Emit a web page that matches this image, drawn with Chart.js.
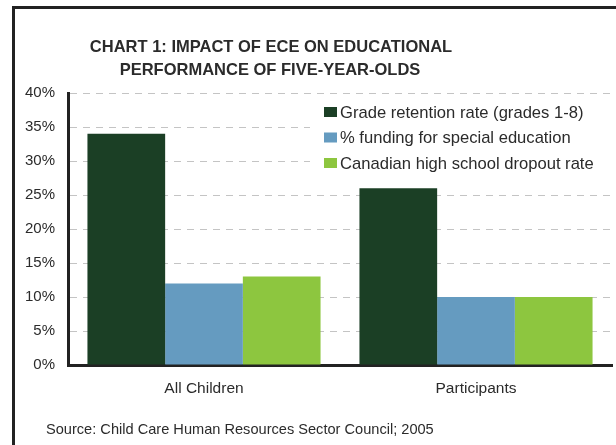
<!DOCTYPE html>
<html>
<head>
<meta charset="utf-8">
<script src="https://cdn.jsdelivr.net/npm/chart.js@4.4.0/dist/chart.umd.min.js"></script>
<style>
    html, body { margin: 0; padding: 0; background: #fff; }
    #wrap { position: relative; width: 616px; height: 445px; overflow: hidden; }
    #frame {
        position: absolute; left: 12px; top: 6px; width: 700px; height: 500px;
        border-left: 3px solid #222; border-top: 3px solid #222;
    }
    canvas { position: absolute; left: 0; top: 0; }
</style>
</head>
<body>
<div id="wrap">
    <div id="frame"></div>
    <canvas id="eceChart" width="616" height="445"></canvas>
</div>
<script>
const categories = ['All Children', 'Participants'];
const seriesNames = [
    'Grade retention rate (grades 1-8)',
    '% funding for special education',
    'Canadian high school dropout rate'
];
const retentionRate = [34, 26];
const specialEdFunding = [12, 10];
const dropoutRate = [13, 10];
const seriesColors = ['#1b3f25', '#659bc0', '#8dc63f'];
const yTicks = [0, 5, 10, 15, 20, 25, 30, 35, 40];

const titleLines = ['CHART 1: IMPACT OF ECE ON EDUCATIONAL', 'PERFORMANCE OF FIVE-YEAR-OLDS'];
const sourceNote = 'Source: Child Care Human Resources Sector Council; 2005';

const textColor = '#2b2b2b';
const fontFamily = '"Liberation Sans", Arial, sans-serif';

// title, source line and the boxed legend in the upper right
const decorations = {
    id: 'decorations',
    afterDraw(chart) {
        const ctx = chart.ctx;
        ctx.save();
        ctx.fillStyle = textColor;
        ctx.textAlign = 'center';
        ctx.textBaseline = 'alphabetic';
        ctx.font = 'bold 16.5px ' + fontFamily;
        ctx.fillText(titleLines[0], 271, 52);
        ctx.fillText(titleLines[1], 270, 75);

        ctx.textAlign = 'left';
        ctx.font = '14.6px ' + fontFamily;
        ctx.fillText(sourceNote, 46, 434);

        // legend
        const x0 = 310, y0 = 97;
        ctx.fillStyle = '#fff';
        ctx.fillRect(x0, y0, 612 - x0, 78);
        ctx.font = '16.6px ' + fontFamily;
        ctx.textBaseline = 'middle';
        chart.data.datasets.forEach((ds, i) => {
            const cy = 112 + i * 25.5;
            ctx.fillStyle = ds.backgroundColor;
            ctx.fillRect(324, cy - 5, 13, 10);
            ctx.fillStyle = textColor;
            ctx.fillText(ds.label, 340, cy + 1);
        });
        ctx.restore();
    }
};

new Chart(document.getElementById('eceChart'), {
    type: 'bar',
    data: {
        labels: categories,
        datasets: [
            { label: seriesNames[0], data: retentionRate, backgroundColor: seriesColors[0] },
            { label: seriesNames[1], data: specialEdFunding, backgroundColor: seriesColors[1] },
            { label: seriesNames[2], data: dropoutRate, backgroundColor: seriesColors[2] }
        ]
    },
    options: {
        responsive: false,
        animation: false,
        devicePixelRatio: 1,
        layout: { padding: { top: 93, right: 4, left: 0, bottom: 0 } },
        datasets: {
            bar: { categoryPercentage: 0.857, barPercentage: 1, borderWidth: 0 }
        },
        plugins: {
            legend: { display: false },
            title: { display: false },
            tooltip: { enabled: false }
        },
        scales: {
            x: {
                afterFit: s => { s.height = 80; },
                grid: { display: false, drawTicks: false },
                border: { display: true, color: '#222', width: 3 },
                ticks: { color: textColor, padding: 14, font: { family: fontFamily, size: 15.5 } }
            },
            y: {
                min: 0,
                max: 40,
                afterFit: s => { s.width = 68; },
                afterBuildTicks: s => { s.ticks = yTicks.map(v => ({ value: v })); },
                grid: { color: '#c4c4c4', lineWidth: 1, drawTicks: false },
                border: { display: true, color: '#222', width: 3, dash: [7, 6] },
                ticks: {
                    color: textColor,
                    padding: 13,
                    font: { family: fontFamily, size: 15 },
                    callback: v => v + '%'
                }
            }
        }
    }
    ,
    plugins: [decorations]
});
</script>
</body>
</html>
